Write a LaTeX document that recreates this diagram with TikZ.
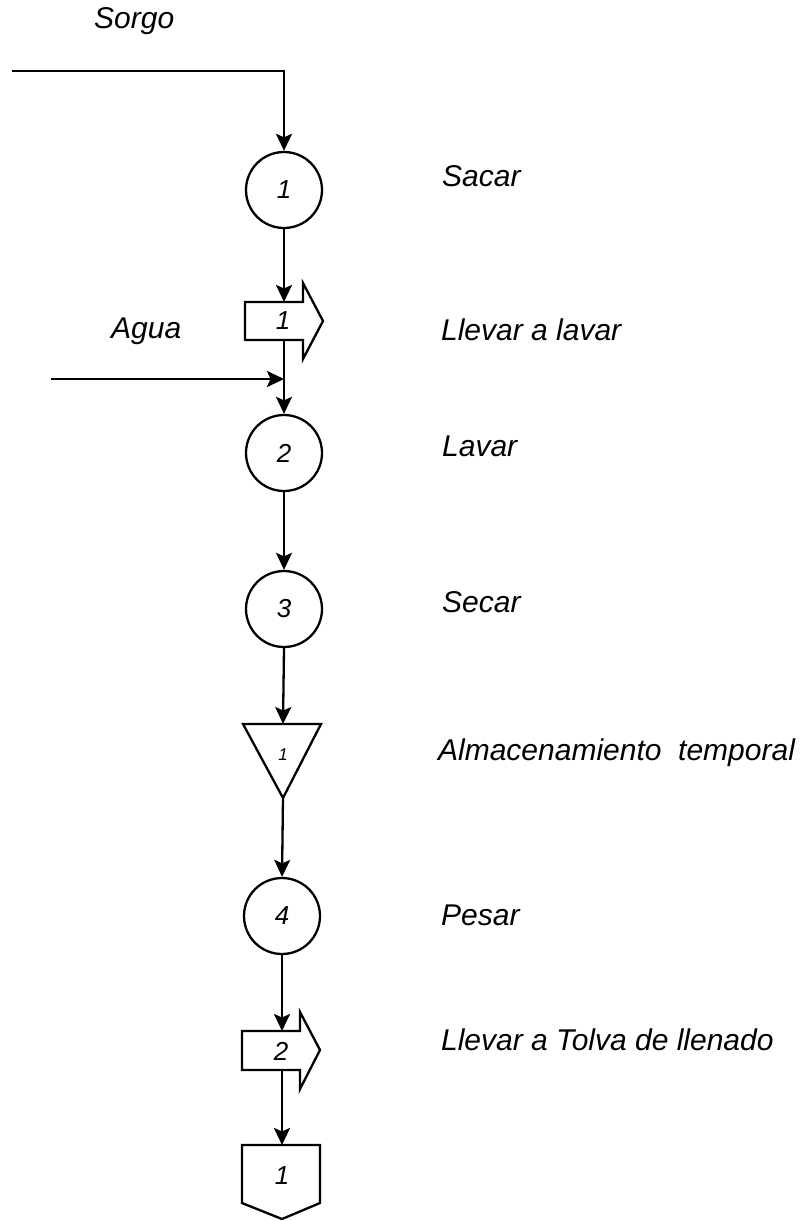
\documentclass[tikz,border=0pt]{standalone}
\usepackage{fontspec}
\setmainfont{Liberation Sans}
\usetikzlibrary{arrows.meta}
\begin{document}
\begin{tikzpicture}[x=1pt,y=-1pt,
  every path/.style={line width=2.3pt},
  flow/.style={-{Stealth[length=17pt,width=16pt,inset=3.5pt]}},
  opcircle/.style={draw,circle,minimum size=76pt,inner sep=0pt,font=\fontsize{26}{26}\selectfont\itshape},
  num/.style={inner sep=0pt,font=\fontsize{26}{26}\selectfont\itshape},
  lbl/.style={anchor=base west,inner sep=0pt,font=\fontsize{30}{30}\selectfont\itshape}]
\useasboundingbox (0,0) rectangle (806,1221);

% operations
\node[opcircle] (s1) at (284,190) {1};
\node[opcircle] (s2) at (284,453) {2};
\node[opcircle] (s3) at (284,609) {3};
\node[opcircle] (s4) at (282,916) {4};

% transport 1
\draw[line join=miter] (245,302) -- (303,302) -- (303,283) -- (323,321) -- (303,359) -- (303,340) -- (245,340) -- cycle;
\node[num] (t1) at (283,321) {1};
\coordinate (t1top) at (284,302);
\coordinate (t1bot) at (284,340);

% storage triangle
\draw (243,724) -- (321,724) -- (283,798) -- cycle;
\node[inner sep=0pt,font=\fontsize{17}{17}\selectfont\itshape] (a1) at (283,755) {1};
\coordinate (a1top) at (283,724);
\coordinate (a1bot) at (283,798);

% transport 2
\draw (242,1031) -- (300,1031) -- (300,1012) -- (320,1050) -- (300,1089) -- (300,1070) -- (242,1070) -- cycle;
\node[num] (t2) at (281,1051) {2};
\coordinate (t2top) at (282,1031);
\coordinate (t2bot) at (282,1070);

% final storage pentagon
\draw (242,1145) -- (320,1145) -- (320,1203) -- (282,1219) -- (242,1203) -- cycle;
\node[num] (e1) at (282,1176) {1};
\coordinate (e1top) at (282,1145);

% inputs
\coordinate (sorgoin) at (12,71);
\coordinate (sorgocorner) at (284,71);
\coordinate (aguain) at (51,379);
\coordinate (aguajoin) at (284,379);

\draw[flow] (sorgoin) -- (sorgocorner) -- (s1.north);
\draw[flow] (s1.south) -- (t1top);
\draw[flow] (t1bot) -- (s2.north);
\draw[flow] (aguain) -- (aguajoin);
\draw[flow] (s2.south) -- (s3.north);
\draw[flow] (s3.south) -- (a1top);
\draw[flow] (a1bot) -- (s4.north);
\draw[flow] (s4.south) -- (t2top);
\draw[flow] (t2bot) -- (e1top);

% labels
\node[lbl] (lsorgo) at (93,28) {Sorgo};
\node[lbl] (lagua) at (110,338) {Agua};
\node[lbl] (l1) at (441,186) {Sacar};
\node[lbl] (l2) at (440,340) {Llevar a lavar};
\node[lbl] (l3) at (441,456) {Lavar};
\node[lbl] (l4) at (441,612) {Secar};
\node[lbl] (l5) at (437,760) {Almacenamiento\ \ temporal};
\node[lbl] (l6) at (440,925) {Pesar};
\node[lbl] (l7) at (440,1050) {Llevar a Tolva de llenado};
\end{tikzpicture}
\end{document}
